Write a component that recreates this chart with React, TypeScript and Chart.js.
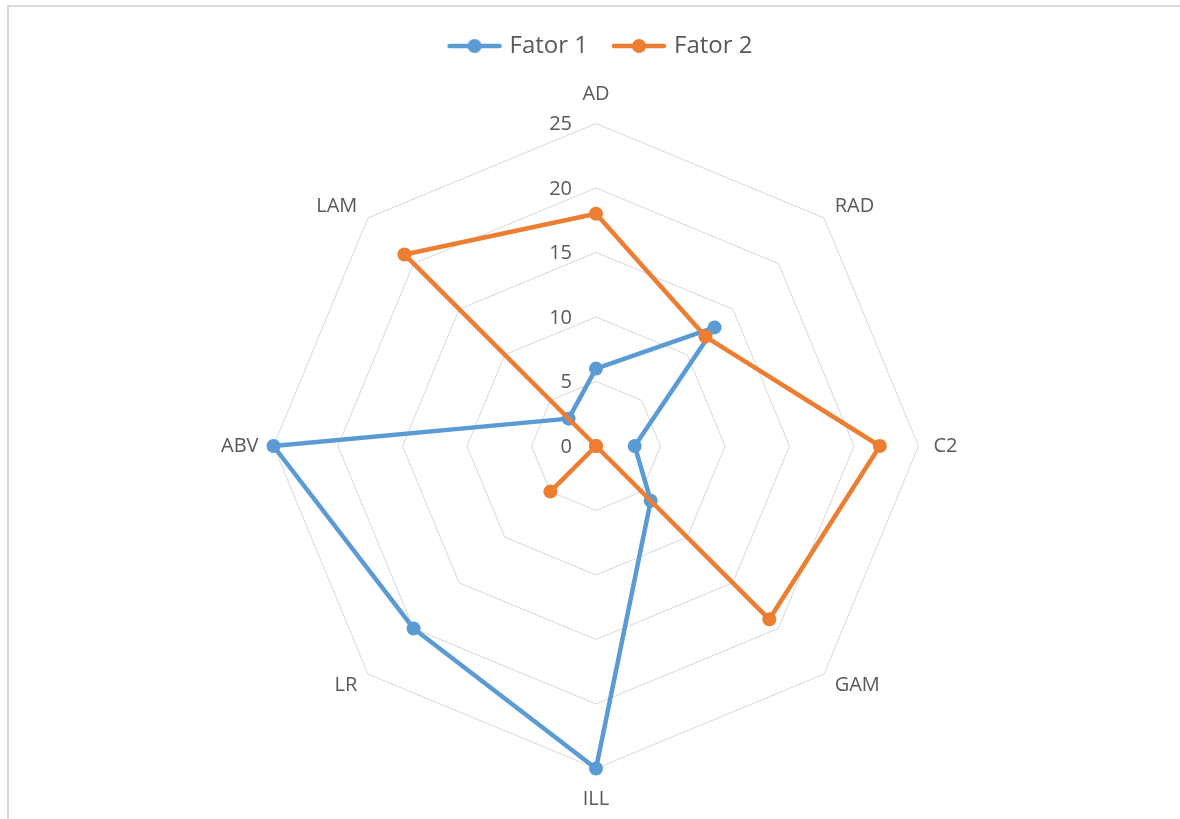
import React, { useEffect, useRef } from 'react';
import { Chart, registerables } from 'chart.js';

Chart.register(...registerables);

const categories = ['AD', 'RAD', 'C2', 'GAM', 'ILL', 'LR', 'ABV', 'LAM'];
const fator1 = [6, 13, 3, 6, 25, 20, 25, 3];
const fator2 = [18, 12, 22, 19, 0, 5, 0, 21];
const tickValues = [0, 5, 10, 15, 20, 25];
const seriesNames = ['Fator 1', 'Fator 2'];
const seriesColors = ['#5B9BD5', '#ED7D31'];

const FONT = '"Open Sans", "Noto Sans", sans-serif';
const TEXT_COLOR = '#595959';
const GRID_COLOR = '#D9D9D9';

function legendSymbol(color: string): HTMLCanvasElement {
  const c = document.createElement('canvas');
  c.width = 56;
  c.height = 18;
  const g = c.getContext('2d')!;
  g.strokeStyle = color;
  g.lineWidth = 4.5;
  g.lineCap = 'round';
  g.beginPath();
  g.moveTo(3, 9);
  g.lineTo(53, 9);
  g.stroke();
  g.fillStyle = color;
  g.beginPath();
  g.arc(28, 9, 7, 0, Math.PI * 2);
  g.fill();
  return c;
}

const backgroundPlugin = {
  id: 'bgBorder',
  beforeDraw(chart: any) {
    const ctx = chart.ctx;
    ctx.save();
    ctx.fillStyle = '#ffffff';
    ctx.fillRect(0, 0, chart.width, chart.height);
    ctx.strokeStyle = GRID_COLOR;
    ctx.lineWidth = 2;
    ctx.strokeRect(8, 6, chart.width + 40, chart.height + 40);
    ctx.restore();
  },
};

const legendShiftPlugin = {
  id: 'legendShift',
  afterLayout(chart: any) {
    const lg = chart.legend;
    if (lg) {
      lg.left += 12;
      lg.right += 12;
    }
  },
};

const tickPlugin = {
  id: 'sideTicks',
  beforeDatasetsDraw(chart: any) {
    const s = chart.scales.r;
    const ctx = chart.ctx;
    ctx.save();
    ctx.font = `20px ${FONT}`;
    ctx.fillStyle = TEXT_COLOR;
    ctx.textAlign = 'right';
    ctx.textBaseline = 'middle';
    tickValues.forEach((v) => {
      const d = s.getDistanceFromCenterForValue(v);
      ctx.fillText(String(v), s.xCenter - 24, s.yCenter - d + 1);
    });
    ctx.restore();
  },
};

export default function App() {
  const ref = useRef<HTMLCanvasElement | null>(null);

  useEffect(() => {
    if (!ref.current) return;
    const symbols = seriesColors.map(legendSymbol);
    const makeDataset = (i: number, data: number[], order: number) => ({
      label: seriesNames[i],
      data,
      borderColor: seriesColors[i],
      backgroundColor: seriesColors[i],
      pointBackgroundColor: seriesColors[i],
      pointBorderColor: seriesColors[i],
      borderWidth: 4.5,
      pointRadius: 7,
      pointBorderWidth: 0,
      borderJoinStyle: 'round',
      fill: false,
      tension: 0,
      order,
    });
    const chart = new Chart(ref.current, {
      type: 'radar',
      data: {
        labels: categories,
        datasets: [makeDataset(0, fator1, 1), makeDataset(1, fator2, 0)],
      },
      options: {
        responsive: false,
        animation: false,
        layout: { padding: { top: 6, bottom: 0, left: 215, right: 215 } },
        plugins: {
          tooltip: { enabled: false },
          legend: {
            position: 'top',
            labels: {
              usePointStyle: true,
              pointStyleWidth: 46,
              padding: 28,
              color: TEXT_COLOR,
              font: { family: FONT, size: 24 },
              generateLabels: (c: any) =>
                c.data.datasets.map((ds: any, i: number) => ({
                  text: ds.label,
                  pointStyle: symbols[i],
                  fillStyle: seriesColors[i],
                  strokeStyle: seriesColors[i],
                  fontColor: TEXT_COLOR,
                  lineWidth: 0,
                  hidden: false,
                  datasetIndex: i,
                })),
            },
          },
        },
        scales: {
          r: {
            min: 0,
            max: 25,
            ticks: { stepSize: 5, display: false },
            grid: { color: GRID_COLOR, lineWidth: 1 },
            angleLines: { display: false },
            pointLabels: {
              display: true,
              color: TEXT_COLOR,
              font: () => ({ family: FONT, size: 20, lineHeight: 0.1 }),
              padding: (ctx: any) => (ctx.index === 0 ? 28 : ctx.index === 4 ? 30 : 15),
            },
          },
        },
      },
      plugins: [backgroundPlugin, legendShiftPlugin, tickPlugin],
    } as any);
    return () => chart.destroy();
  }, []);

  return (
    <div
      style={{
        position: 'fixed',
        left: 0,
        top: 0,
        width: 1180,
        height: 819,
        overflow: 'hidden',
        background: '#fff',
      }}
    >
      <canvas ref={ref} width={1180} height={826} style={{ display: 'block' }} />
    </div>
  );
}
